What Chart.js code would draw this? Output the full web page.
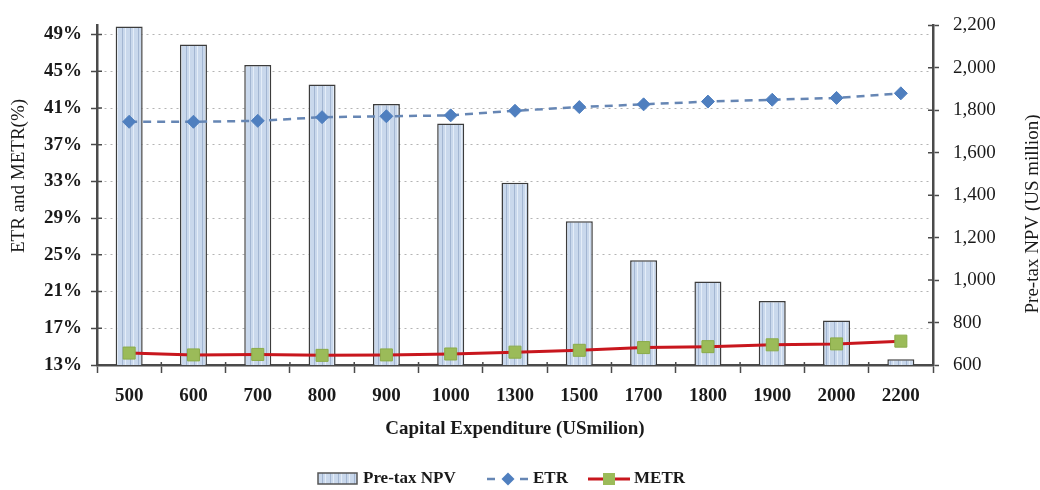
<!DOCTYPE html>
<html lang="en">
<head>
<meta charset="UTF-8">
<title>Pre-tax NPV, ETR and METR</title>
<script src="https://cdn.jsdelivr.net/npm/chart.js@4"></script>
<style>
  html, body { margin: 0; padding: 0; background: #fff; }
</style>
</head>
<body>
<canvas id="grafico" width="1040" height="490"></canvas>
<script>
// categories - Capital Expenditure (US million)
const capex = ['500', '600', '700', '800', '900', '1000', '1300', '1500', '1700', '1800', '1900', '2000', '2200'];
// Pre-tax NPV (US million) - right axis
const npv = [2195, 2110, 2013, 1921, 1830, 1738, 1459, 1277, 1094, 993, 902, 810, 627];
// ETR and METR (%) - left axis
const etr = [39.5, 39.5, 39.6, 40.0, 40.1, 40.2, 40.7, 41.1, 41.4, 41.7, 41.9, 42.1, 42.6];
const metr = [14.3, 14.1, 14.15, 14.05, 14.1, 14.2, 14.4, 14.6, 14.9, 15.0, 15.2, 15.3, 15.6];
// tick labels
const ticksLeft = [13, 17, 21, 25, 29, 33, 37, 41, 45, 49];
const ticksRight = [600, 800, 1000, 1200, 1400, 1600, 1800, 2000, 2200];

const axisColor = '#4a4a4a';

// striped fill for the bars
function stripes() {
    const c = document.createElement('canvas');
    c.width = 8; c.height = 8;
    const g = c.getContext('2d');
    g.fillStyle = '#c9d8ec'; g.fillRect(0, 0, 8, 8);
    g.fillStyle = '#a3b6d2'; g.fillRect(2, 0, 1, 8);
    g.fillStyle = '#e4edf8'; g.fillRect(5, 0, 1, 8);
    return g.createPattern(c, 'repeat');
}
const barFill = stripes();

// inner half of the tick marks, the axis titles and the legend
const extras = {
    id: 'extras',
    afterDraw(chart) {
        const ctx = chart.ctx;
        const a = chart.chartArea;
        const y = chart.scales.y, y1 = chart.scales.y1, x = chart.scales.x;
        ctx.save();
        ctx.strokeStyle = axisColor;
        ctx.lineWidth = 1.5;
        ctx.beginPath();
        ticksLeft.forEach(v => { const p = y.getPixelForValue(v); ctx.moveTo(a.left, p); ctx.lineTo(a.left + 5, p); });
        ticksRight.forEach(v => { const p = y1.getPixelForValue(v); ctx.moveTo(a.right - 5, p); ctx.lineTo(a.right, p); });
        for (let i = 1; i < capex.length; i++) {
            const p = (x.getPixelForTick(i - 1) + x.getPixelForTick(i)) / 2;
            ctx.moveTo(p, a.bottom - 3); ctx.lineTo(p, a.bottom);
        }
        ctx.stroke();

        // y titles
        ctx.fillStyle = '#1a1a1a';
        ctx.font = '19px "Liberation Serif"';
        ctx.textAlign = 'center';
        ctx.textBaseline = 'middle';
        ctx.save();
        ctx.translate(19, 176); ctx.rotate(-Math.PI / 2);
        ctx.fillText('ETR and METR(%)', 0, 0);
        ctx.restore();
        ctx.save();
        ctx.translate(1033, 214); ctx.rotate(-Math.PI / 2);
        ctx.fillText('Pre-tax NPV (US million)', 0, 0);
        ctx.restore();

        // legend
        const ly = 479;
        ctx.fillStyle = barFill;
        ctx.fillRect(318, ly - 6, 39, 11);
        ctx.strokeStyle = '#555'; ctx.lineWidth = 1.5;
        ctx.strokeRect(318, ly - 6, 39, 11);

        ctx.strokeStyle = '#6686b4'; ctx.lineWidth = 2.5;
        ctx.beginPath();
        ctx.moveTo(487, ly); ctx.lineTo(495, ly);
        ctx.moveTo(520, ly); ctx.lineTo(528, ly);
        ctx.stroke();
        ctx.fillStyle = '#4f7fbf';
        ctx.beginPath();
        ctx.moveTo(508 - 6.5, ly); ctx.lineTo(508, ly - 6.5); ctx.lineTo(508 + 6.5, ly); ctx.lineTo(508, ly + 6.5);
        ctx.closePath(); ctx.fill();

        ctx.strokeStyle = '#c8161d'; ctx.lineWidth = 3;
        ctx.beginPath(); ctx.moveTo(588, ly); ctx.lineTo(630, ly); ctx.stroke();
        ctx.fillStyle = '#9bbb59';
        ctx.fillRect(603, ly - 6, 12, 12);

        ctx.fillStyle = '#1a1a1a';
        ctx.font = 'bold 17px "Liberation Serif"';
        ctx.textAlign = 'left';
        ctx.fillText('Pre-tax NPV', 363, ly);
        ctx.fillText('ETR', 533, ly);
        ctx.fillText('METR', 634, ly);
        ctx.restore();
    }
};

Chart.defaults.font.family = '"Liberation Serif", serif';
Chart.defaults.font.size = 19;
Chart.defaults.color = '#1a1a1a';

const dados = {
    labels: capex,
    datasets: [
        {
            type: 'line',
            label: 'ETR',
            data: etr,
            yAxisID: 'y',
            borderColor: '#6686b4',
            borderWidth: 2.5,
            borderDash: [8, 6],
            pointStyle: 'rectRot',
            pointRadius: 6.5,
            pointBackgroundColor: '#4f7fbf',
            pointBorderColor: '#4f7fbf',
            pointBorderWidth: 1,
            tension: 0,
            order: 1
        },
        {
            type: 'line',
            label: 'METR',
            data: metr,
            yAxisID: 'y',
            borderColor: '#c8161d',
            borderWidth: 3,
            pointStyle: 'rect',
            pointRadius: 8.5,
            pointBackgroundColor: '#9bbb59',
            pointBorderColor: '#8aab4a',
            pointBorderWidth: 1,
            tension: 0,
            order: 2
        },
        {
            type: 'bar',
            label: 'Pre-tax NPV',
            data: npv,
            yAxisID: 'y1',
            backgroundColor: barFill,
            borderColor: '#3c3c3c',
            borderWidth: 1.5,
            barPercentage: 0.42,
            categoryPercentage: 1,
            order: 3
        }
    ]
};

const config = {
    data: dados,
    options: {
        responsive: false,
        animation: false,
        devicePixelRatio: 1,
        layout: { padding: { top: 15, bottom: 46, left: 0, right: 0 } },
        plugins: {
            legend: { display: false },
            tooltip: { enabled: false }
        },
        scales: {
            x: {
                offset: true,
                grid: { drawOnChartArea: false, offset: true, tickLength: 8, tickColor: axisColor, tickWidth: 1.5 },
                border: { color: axisColor, width: 2.5 },
                ticks: { font: { weight: 'bold', size: 19 }, padding: 12, maxRotation: 0, autoSkip: false },
                title: { display: true, text: 'Capital Expenditure (USmilion)', font: { weight: 'bold', size: 19 }, padding: { top: 0, bottom: 4 } },
                afterFit(s) { s.height = 79; }
            },
            y: {
                position: 'left',
                min: 13,
                max: 50,
                afterBuildTicks(s) { s.ticks = ticksLeft.map(v => ({ value: v })); },
                grid: { color: '#b4b4b4', lineWidth: 1, tickLength: 6, tickColor: axisColor, tickWidth: 1.5, tickBorderDash: [] },
                border: { color: axisColor, width: 2.5, dash: [2, 4] },
                ticks: { font: { weight: 'bold', size: 19 }, padding: 9, callback: v => v + '%' },
                afterFit(s) { s.width = 97; }
            },
            y1: {
                position: 'right',
                min: 600,
                max: 2200,
                afterBuildTicks(s) { s.ticks = ticksRight.map(v => ({ value: v })); },
                grid: { drawOnChartArea: false, tickLength: 6, tickColor: axisColor, tickWidth: 1.5 },
                border: { color: axisColor, width: 2.5 },
                ticks: { font: { size: 19 }, padding: 14, callback: v => v.toLocaleString('en-US') },
                afterFit(s) { s.width = 107; }
            }
        }
    },
    plugins: [extras]
};

new Chart(document.getElementById('grafico'), config);
</script>
</body>
</html>
